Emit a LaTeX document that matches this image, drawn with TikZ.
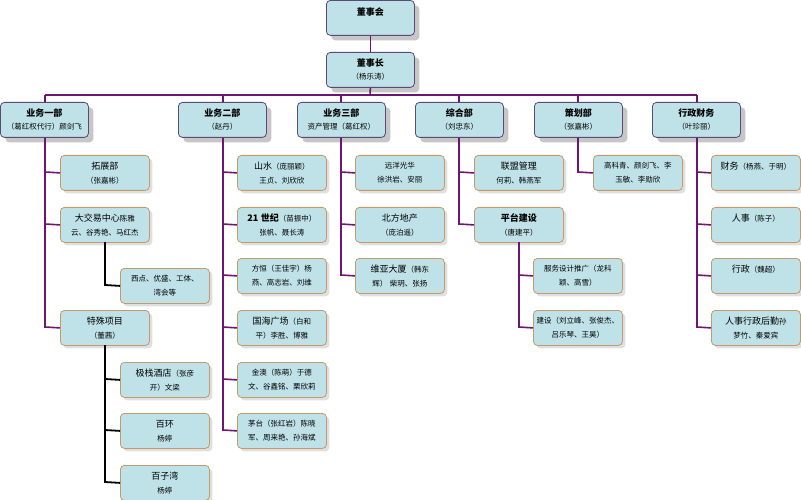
\documentclass[tikz,border=0pt]{standalone}
\usepackage{fontspec}
\setmainfont{Noto Sans CJK SC}
\usetikzlibrary{shadows}
\definecolor{boxfill}{HTML}{BFE2E8}
\definecolor{topline}{HTML}{5A4A78}
\definecolor{childline}{HTML}{C49A6C}
\definecolor{bus}{HTML}{6E1472}
\tikzset{
 topbox/.style={draw=topline,fill=boxfill,rounded corners=4pt,line width=0.8pt,minimum width=88pt,minimum height=35pt,anchor=north west,align=center,text width=86pt,inner sep=1pt,font=\fontsize{7.5}{13}\selectfont,drop shadow={shadow xshift=5pt,shadow yshift=-5pt,fill=gray!45,opacity=1}},
 kidbox/.style={draw=childline,fill=boxfill,rounded corners=4pt,line width=0.8pt,minimum width=89pt,minimum height=35pt,anchor=north west,align=center,text width=84pt,inner sep=1pt,font=\fontsize{7.5}{14}\selectfont,drop shadow={shadow xshift=3pt,shadow yshift=-3pt,fill=gray!25,opacity=1}},
 pl/.style={draw=bus,line width=1.6pt},
 bl/.style={draw=black,line width=1.8pt},
}
\newcommand{\bigtxt}[1]{{\fontsize{9}{14}\selectfont #1}}
\newcommand{\ttl}[1]{{\fontsize{9}{14}\selectfont\bfseries #1}}
\begin{document}
\begin{tikzpicture}[x=1pt,y=-1pt]
\useasboundingbox (0,0) rectangle (801,500);
% top
\node[topbox] (dsh) at (326,0) {\ttl{董事会}\\ \ };
\node[topbox] (dsz) at (326,52) {\ttl{董事长}\\（杨乐涛）};
\node[topbox] (d1) at (0,102) {\ttl{业务一部}\\（葛红权代行）颜剑飞};
\node[topbox] (d2) at (178,102) {\ttl{业务二部}\\（赵丹）};
\node[topbox] (d3) at (297,102) {\ttl{业务三部}\\资产管理（葛红权）};
\node[topbox] (d4) at (415,102) {\ttl{综合部}\\（刘忠东）};
\node[topbox] (d5) at (534,102) {\ttl{策划部}\\（张嘉彬）};
\node[topbox] (d6) at (652,102) {\ttl{行政财务}\\（叶珍丽）};
\coordinate (busL) at (45,95); \coordinate (busR) at (697,95);
\draw[pl] (dsh.south) -- (dsz.north);
\draw[pl] (dsz.south) -- (370,95);
\draw[pl] (busL) -- (busR);
\foreach \n/\x in {d1/45,d2/223,d3/341,d4/459,d5/578,d6/697}{\draw[pl] (\x,95) -- (\x,102);}
% dept 1
\node[kidbox] (a1) at (60,155) {\bigtxt{拓展部}\\（张嘉彬）};
\node[kidbox] (a2) at (60,207) {\bigtxt{大交易中心}陈雅\\云、谷秀艳、马红杰};
\node[kidbox] (a3) at (60,310) {\bigtxt{特殊项目}\\（董茜）};
\node[kidbox] (a21) at (120,268) {西点、优盛、工体、\\湾会等};
\node[kidbox] (a31) at (120,362) {\bigtxt{极栈酒店}（张彦\\开）文梁};
\node[kidbox] (a32) at (120,413) {\bigtxt{百环}\\杨婷};
\node[kidbox] (a33) at (120,465) {\bigtxt{百子湾}\\杨婷};
\draw[pl] (45,138) -- (45,327) -- (a3.west);
\draw[pl] (45,172) -- (a1.west); \draw[pl] (45,224) -- (a2.west);
\draw[bl] (105,242) -- (105,285) -- (a21.west);
\draw[bl] (105,345) -- (105,482) -- (a33.west);
\draw[bl] (105,379) -- (a31.west); \draw[bl] (105,430) -- (a32.west);
% dept 2
\node[kidbox] (b1) at (237,155) {\bigtxt{山水}（庞丽颖）\\王贞、刘欣欣};
\node[kidbox] (b2) at (237,207) {\textbf{\bigtxt{21 世纪}}（苗振中）\\张帆、聂长涛};
\node[kidbox] (b3) at (237,258) {方恒（王佳宇）杨\\燕、高志岩、刘维};
\node[kidbox] (b4) at (237,310) {\bigtxt{国海广场}（白和\\平）李胜、博雅};
\node[kidbox] (b5) at (237,362) {金澳（陈萌）于德\\文、谷鑫铭、栗欣莉};
\node[kidbox] (b6) at (237,413) {茅台（张红岩）陈晓\\军、周来艳、孙海斌};
\draw[pl] (223,138) -- (223,430) -- (b6.west);
\foreach \k/\y in {b1/172,b2/224,b3/275,b4/327,b5/379}{\draw[pl] (223,\y) -- (\k.west);}
% dept 3
\node[kidbox] (c1) at (355,155) {远洋光华\\徐洪岩、安丽};
\node[kidbox] (c2) at (355,207) {\bigtxt{北方地产}\\（庞泊遥）};
\node[kidbox] (c3) at (355,258) {\bigtxt{维亚大厦}（韩东\\辉） 柴玥、张扬};
\draw[pl] (341,138) -- (341,275) -- (c3.west);
\draw[pl] (341,172) -- (c1.west); \draw[pl] (341,224) -- (c2.west);
% dept 4
\node[kidbox] (e1) at (474,155) {\bigtxt{联盟管理}\\何莉、韩燕军};
\node[kidbox] (e2) at (474,207) {\ttl{平台建设}\\（唐建平）};
\node[kidbox] (e21) at (533,258) {服务设计推广（龙科\\颖、高雪）};
\node[kidbox] (e22) at (533,310) {建设（刘立峰、张俊杰、\\吕乐琴、王昊）};
\draw[pl] (459,138) -- (459,224) -- (e2.west);
\draw[pl] (459,172) -- (e1.west);
\draw[pl] (519,242) -- (519,327) -- (e22.west);
\draw[pl] (519,275) -- (e21.west);
% dept 5
\node[kidbox] (f1) at (593,155) {高科青、颜剑飞、李\\玉敏、李勋欣};
\draw[pl] (578,138) -- (578,172) -- (f1.west);
% dept 6
\node[kidbox] (g1) at (711,155) {\bigtxt{财务}（杨燕、于明）\\ \ };
\node[kidbox] (g2) at (711,207) {\bigtxt{人事}（陈子）\\ \ };
\node[kidbox] (g3) at (711,258) {\bigtxt{行政}（魏超）\\ \ };
\node[kidbox] (g4) at (711,310) {\bigtxt{人事行政后勤}孙\\梦竹、秦爱宾};
\draw[pl] (697,138) -- (697,327) -- (g4.west);
\foreach \k/\y in {g1/172,g2/224,g3/275}{\draw[pl] (697,\y) -- (\k.west);}
\end{tikzpicture}
\end{document}
